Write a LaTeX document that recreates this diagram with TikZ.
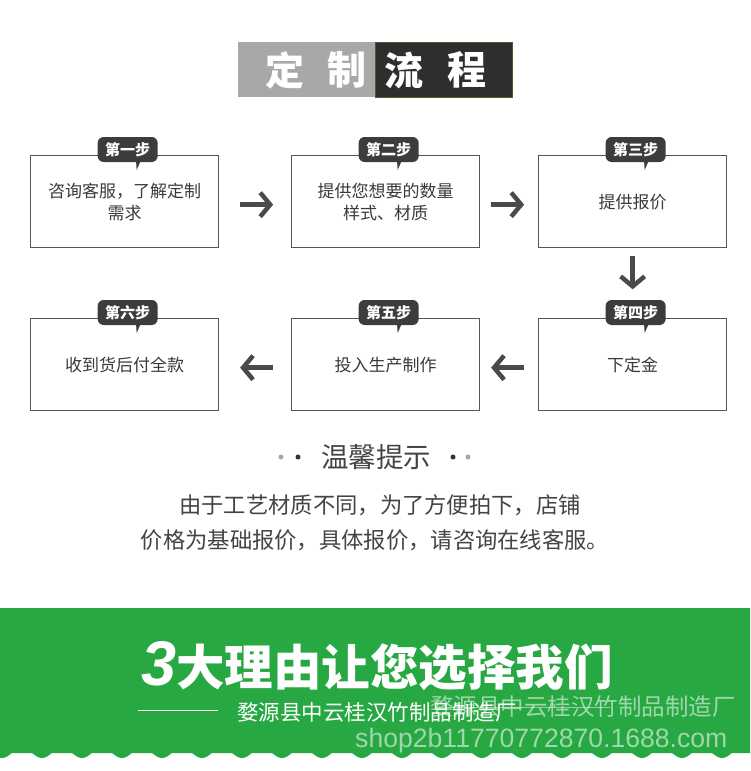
\documentclass[tikz,border=0pt]{standalone}
\usepackage{fontspec}
\setmainfont{Noto Sans CJK SC}
\newfontfamily\latinsans{Liberation Sans}
\usetikzlibrary{calc,arrows.meta}
\definecolor{boxc}{HTML}{555555}
\definecolor{bubc}{HTML}{3C3C3C}
\definecolor{arrc}{HTML}{4A4A4A}
\definecolor{txtc}{HTML}{3A3A3A}
\definecolor{hintc}{HTML}{444444}
\definecolor{titlegray}{HTML}{A8A8A8}
\definecolor{titledark}{HTML}{2E2E2E}
\definecolor{titleedge}{HTML}{5C5230}
\definecolor{greenc}{HTML}{27A843}
\begin{document}
\begin{tikzpicture}[x=1pt,y=-1pt,
  stepbox/.style={draw=boxc, line width=1.3pt, minimum width=188pt, minimum height=92pt,
    inner sep=0pt, anchor=north west, align=center, text=txtc,
    font=\fontsize{17}{22}\selectfont},
  bubble/.style={fill=bubc, rounded corners=6pt, minimum width=60pt, minimum height=25pt,
    inner sep=0pt, text=white, font=\fontsize{15}{15}\selectfont\bfseries},
  flowarrow/.style={draw=arrc, line width=4.5pt, -{Straight Barb[length=10pt,width=24pt]}},
  titlechar/.style={text=white, font=\fontsize{39}{39}\selectfont\bfseries, inner sep=0pt},
  hint/.style={text=hintc, font=\fontsize{22.3}{24}\selectfont, inner sep=0pt},
  dotn/.style={circle, inner sep=0pt, minimum size=5pt},
  wm/.style={text=white, opacity=0.55, inner sep=0pt, anchor=west}]
\useasboundingbox (0,0) rectangle (750,771);
\fill[white] (0,0) rectangle (750,771);

% title
\fill[titlegray] (238,42) rectangle (375,97);
\filldraw[fill=titledark, draw=titleedge, line width=0.8pt] (375,42) rectangle (512,97);
\node[titlechar] (tc1) at (285,70) {定};
\node[titlechar] (tc2) at (347,70) {制};
\node[titlechar] (tc3) at (404,70) {流};
\node[titlechar] (tc4) at (467,70) {程};

% boxes
\node[stepbox] (b1) at (30,155) {咨询客服，了解定制\\需求};
\node[stepbox] (b2) at (291,155) {提供您想要的数量\\样式、材质};
\node[stepbox] (b3) at (538,155) {提供报价};
\node[stepbox] (b4) at (538,318) {下定金};
\node[stepbox] (b5) at (291,318) {投入生产制作};
\node[stepbox] (b6) at (30,318) {收到货后付全款};

% bubbles
\foreach \b/\t in {b1/第一步, b2/第二步, b3/第三步, b4/第四步, b5/第五步, b6/第六步}{
  \fill[bubc] ($(\b.north)+(11,-1)$) -- ($(\b.north)+(19,-1)$) -- ($(\b.north)+(12,15)$) -- cycle;
  \node[bubble] (t\b) at ($(\b.north)+(3,-5.5)$) {\t};
}

% arrows
\draw[flowarrow] ($(b1.east)!0.5!(b2.west)+(-15,3)$) -- ($(b1.east)!0.5!(b2.west)+(18,3)$);
\draw[flowarrow] ($(b2.east)!0.5!(b3.west)+(-18,3)$) -- ($(b2.east)!0.5!(b3.west)+(15,3)$);
\draw[flowarrow] ($(b3.south)+(0,8)$) -- ($(b3.south)+(0,41)$);
\draw[flowarrow] ($(b5.east)!0.5!(b4.west)+(15,3)$) -- ($(b5.east)!0.5!(b4.west)+(-18,3)$);
\draw[flowarrow] ($(b6.east)!0.5!(b5.west)+(18,3)$) -- ($(b6.east)!0.5!(b5.west)+(-15,3)$);

% tips
\node[text=hintc, font=\fontsize{27.5}{27.5}\selectfont, inner sep=0pt] (tip) at (376,457) {温馨提示};
\node[dotn, fill=black!35] (d1) at (281,457) {};
\node[dotn, fill=black!80] (d2) at (298,457) {};
\node[dotn, fill=black!80] (d3) at (453,457) {};
\node[dotn, fill=black!35] (d4) at (468,457) {};
\node[hint] (h1) at (380,505) {由于工艺材质不同，为了方便拍下，店铺};
\node[hint] (h2) at (375,540) {价格为基础报价，具体报价，请咨询在线客服。};

% green band
\begin{scope}
\clip (0,0) rectangle (750,771);
\fill[greenc] (-28,753) -- (-28,608) -- (800,608) -- (800,753) -- (-28,753)
  \foreach \k in {0,...,20}{ sin ++(10,-5) cos ++(10,5) sin ++(10,5) cos ++(10,-5) }
  -- cycle;
\end{scope}

\node[anchor=base west, inner sep=0pt, text=white] (big) at (141,685)
  {{\latinsans\bfseries\itshape\fontsize{63}{63}\selectfont 3}{\bfseries\fontsize{48.5}{48.5}\selectfont 大理由让您选择我们}};

\coordinate (l1) at (138,710);
\coordinate (l2) at (218,710);
\draw[white, line width=1pt] (l1) -- (l2);
\node[anchor=west, inner sep=0pt, text=white, font=\fontsize{21.5}{21.5}\selectfont] (sub) at (237,712) {婺源县中云桂汉竹制品制造厂};

% watermark
\coordinate (w1) at (435,707);
\coordinate (w2) at (610,707);
\draw[white, opacity=0.5, line width=1pt] (w1) -- (w2);
\node[wm, font=\fontsize{23.5}{23.5}\selectfont] (wm1) at (430,707) {婺源县中云桂汉竹制品制造厂};
\node[wm, font=\latinsans\fontsize{26.6}{26.6}\selectfont] (wm2) at (355,741) {shop2b11770772870.1688.com};
\end{tikzpicture}
\end{document}
